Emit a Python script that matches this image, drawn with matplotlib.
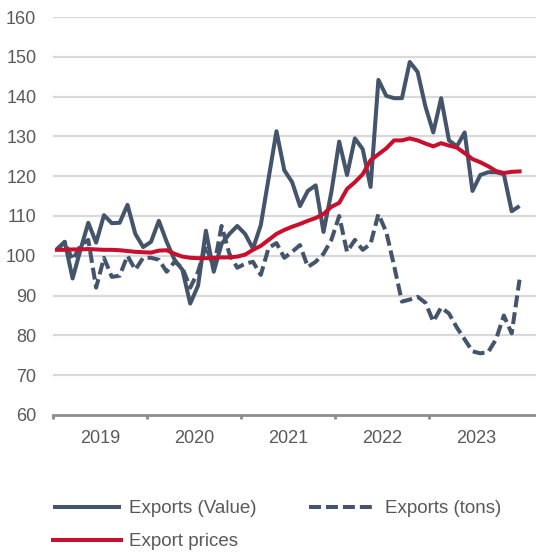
import numpy as np
import matplotlib
matplotlib.use("Agg")
import matplotlib.pyplot as plt

plt.rcParams['font.family'] = ['Liberation Sans', 'DejaVu Sans']

years = ["2019", "2020", "2021", "2022", "2023"]

exports_value = [
    101.7, 103.5, 94.3, 101.5, 108.3, 103.3, 110.2, 108.2, 108.3, 112.8, 105.5, 102.2,
    103.5, 108.8, 103.5, 99.0, 96.5, 88.0, 92.5, 106.3, 96.0, 103.0, 105.5, 107.5,
    105.5, 101.8, 107.7, 119.5, 131.3, 121.5, 118.5, 112.5, 116.3, 117.7, 106.0, 116.0,
    128.7, 120.3, 129.5, 126.8, 117.3, 144.2, 140.2, 139.6, 139.6, 148.7, 146.2, 137.5,
    131.0, 139.6, 129.0, 127.5, 131.0, 116.3, 120.3, 121.0, 121.0, 120.5, 111.2, 112.5,
]

exports_tons = [
    101.5, 103.5, 99.0, 102.5, 104.0, 92.0, 99.5, 94.7, 95.0, 100.0, 96.5, 99.5,
    99.5, 99.0, 96.0, 98.5, 97.0, 92.0, 96.0, 102.5, 97.0, 107.5, 100.5, 97.0,
    98.0, 98.5, 95.2, 102.0, 103.2, 99.5, 101.0, 102.7, 97.2, 98.5, 100.5, 104.0,
    110.0, 101.0, 104.0, 101.5, 103.0, 110.5, 106.0, 97.5, 88.5, 89.0, 89.7, 88.2,
    83.5, 87.0, 85.5, 82.0, 79.0, 76.0, 75.5, 75.8, 79.0, 85.0, 80.5, 94.0,
]

export_prices = [
    101.5, 101.5, 101.6, 101.6, 101.7, 101.6, 101.5, 101.5, 101.4, 101.2, 101.0, 100.9,
    100.8, 101.3, 101.4, 100.5, 99.8, 99.5, 99.4, 99.4, 99.5, 99.6, 99.6, 99.8,
    100.3, 101.5, 102.5, 104.0, 105.5, 106.5, 107.3, 108.0, 108.8, 109.5, 110.5, 112.3,
    113.3, 116.8, 118.5, 120.5, 124.0, 125.5, 127.0, 129.0, 129.0, 129.5, 129.0, 128.2,
    127.5, 128.3, 127.7, 127.2, 125.8, 124.3, 123.5, 122.5, 121.3, 120.8, 121.1, 121.2,
]

x = np.arange(len(exports_value))

SLATE = '#44546A'
RED = '#C8102E'
TXT = '#595959'
LW = 2.9

fig = plt.figure(figsize=(5.36, 5.53), dpi=100)
ax = fig.add_axes([53/536, 1 - 415/553, 1 - 53/536, (415 - 17)/553])

ax.set_ylim(60, 160)
ax.set_xlim(-0.5, 61.1)
ax.set_yticks(np.arange(60, 161, 10))
for v in range(70, 161, 10):
    ax.axhline(v, color='#D9D9D9', lw=1.6, zorder=0)

l1, = ax.plot(x, exports_value, color=SLATE, lw=LW, solid_joinstyle='round',
              solid_capstyle='butt', label='Exports (Value)', zorder=3)
l2, = ax.plot(x, exports_tons, color=SLATE, lw=LW, linestyle=(0, (2.97, 1.24)),
              dash_joinstyle='round', label='Exports (tons)', zorder=3)
l3, = ax.plot(x, export_prices, color=RED, lw=LW, solid_joinstyle='round',
              label='Export prices', zorder=4)

for s in ['top', 'right', 'left']:
    ax.spines[s].set_visible(False)
ax.spines['bottom'].set_color('#8C8C8C')
ax.spines['bottom'].set_linewidth(2.0)

ax.set_xticks([-0.5 + 12 * k for k in range(5)])
ax.set_xticklabels([])
ax.set_xticks([5.5 + 12 * k for k in range(5)], minor=True)
ax.set_xticklabels(years, minor=True)
ax.tick_params(axis='x', which='major', length=3, width=2, color='#8C8C8C')
ax.tick_params(axis='x', which='minor', length=0, pad=11, labelsize=13, labelcolor=TXT)
ax.tick_params(axis='y', length=0, pad=12, labelsize=13, labelcolor=TXT)

fig.legend(handles=[l1, l3, l2], labels=['Exports (Value)', 'Export prices', 'Exports (tons)'],
           ncol=2, loc='upper left', bbox_to_anchor=(53/536, 1 - 500/553),
           frameon=False, fontsize=13.5, labelcolor=TXT, handlelength=3.6,
           handletextpad=0.45, columnspacing=2.8, labelspacing=0.85, borderpad=0,
           borderaxespad=0)

fig.savefig('out.png', dpi=100)
